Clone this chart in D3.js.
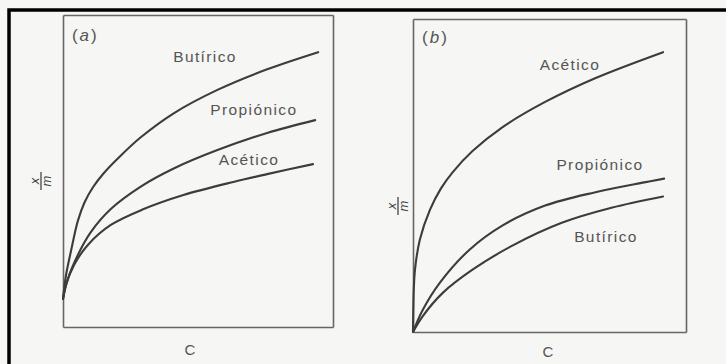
<!DOCTYPE html>
<html>
<head>
<meta charset="utf-8">
<script src="https://cdn.jsdelivr.net/npm/d3@7"></script>
<style>
  body { margin: 0; background: #f6f6f4; }
  svg { display: block; }
</style>
</head>
<body>
<script>
// isotherm curves, [C, x/m] in arbitrary units (0-100)
var butiricoA = [[0, 9], [1.1, 16.5], [3.0, 24.5], [5.5, 34.0], [8.0, 40.0], [11.1, 44.8],
                 [15.0, 49.2], [20.3, 54.0], [28.8, 60.8], [41.0, 68.5], [57.2, 76.0],
                 [75.6, 82.6], [94.5, 88.1]];
var propionicoA = [[0, 9], [1.8, 15.4], [5.5, 23.1], [10.3, 30.4], [17.7, 37.8], [28.8, 45.0],
                   [41.0, 50.8], [57.2, 56.7], [75.6, 62.2], [93.4, 66.3]];
var aceticoA = [[0, 9], [1.1, 13.5], [4.1, 19.9], [9.2, 26.3], [17.7, 32.7], [29.9, 37.8],
                [44.6, 42.3], [63.1, 46.5], [75.6, 49.0], [92.6, 52.2]];

var aceticoB = [[0, 0], [0.3, 14.0], [0.8, 20.5], [2.5, 29.5], [6.2, 39.0], [10.2, 45.8],
                [14.5, 51.0], [21.8, 57.8], [32.7, 65.4], [48.4, 73.5], [66.5, 81.0], [91.6, 89.4]];
var propionicoB = [[0, 0], [3.6, 7.1], [9.8, 15.7], [20.7, 26.3], [32.7, 34.0], [48.4, 40.4],
                   [66.5, 44.6], [84.7, 47.8], [92.0, 49.0]];
var butiricoB = [[0, 0], [3.6, 5.1], [10.9, 12.5], [21.8, 19.9], [36.4, 27.6], [54.5, 34.9],
                 [72.7, 39.7], [91.6, 43.3]];

// names of the acids and the panel letters
var acidNames = ["Butírico", "Propiónico", "Acético"];
var panelLetters = ["a", "b"];
var xLabel = "C";
var yLabelTop = "x";
var yLabelBottom = "m";

// layout of both panels in pixels (frame box, label anchors in data units)
var panels = [
  {letter: panelLetters[0], left: 63, right: 333, top: 15, bottom: 327,
   curves: [butiricoA, propionicoA, aceticoA],
   labels: [[52.6, 84.9], [70.7, 67.9], [68.9, 51.9]],
   letterPos: [3.3, 91.7], yLab: [41, 181], cLab: [190, 355]},
  {letter: panelLetters[1], left: 413, right: 686, top: 19, bottom: 332,
   curves: [butiricoB, propionicoB, aceticoB],
   labels: [[70.7, 28.8], [68.5, 51.8], [57.5, 83.7]],
   letterPos: [3.3, 92.3], yLab: [398, 206], cLab: [548, 357]}
];

var width = 726;
var height = 364;

// creates the SVG element in the html-body
var svg = d3.select("body")
            .append("svg")
            .attr("width", width)
            .attr("height", height);

// background of the scanned page
svg.append("rect")
   .attr("width", "100%")
   .attr("height", "100%")
   .attr("fill", "#f6f6f4");

// thick black frame, only its top and left edges are in the picture
svg.append("path")
   .attr("d", "M9,366 L9,10 L728,10")
   .attr("fill", "none")
   .attr("stroke", "#000")
   .attr("stroke-width", 3.5);

var font = "'Liberation Sans', Arial, Helvetica, sans-serif";

panels.forEach(function(p) {
    // rescales the values to the size of the panel
    var xScale = d3.scaleLinear()
                   .domain([0, 100])
                   .range([p.left, p.right]);
    var yScale = d3.scaleLinear()
                   .domain([0, 100])
                   .range([p.bottom, p.top]);

    // frame of the panel, built from bare axes without ticks
    var frame = svg.append("g");
    frame.append("g")
         .attr("transform", "translate(0," + p.bottom + ")")
         .call(d3.axisBottom(xScale).ticks(0).tickSize(0));
    frame.append("g")
         .attr("transform", "translate(0," + p.top + ")")
         .call(d3.axisTop(xScale).ticks(0).tickSize(0));
    frame.append("g")
         .attr("transform", "translate(" + p.left + ",0)")
         .call(d3.axisLeft(yScale).ticks(0).tickSize(0));
    frame.append("g")
         .attr("transform", "translate(" + p.right + ",0)")
         .call(d3.axisRight(yScale).ticks(0).tickSize(0));
    frame.selectAll(".domain")
         .attr("stroke", "#666")
         .attr("stroke-width", 1.6);

    // draws the three isotherms
    var line = d3.line()
                 .x(function(d){ return xScale(d[0]); })
                 .y(function(d){ return yScale(d[1]); })
                 .curve(d3.curveCatmullRom.alpha(0.5));

    svg.selectAll(null)
       .data(p.curves)
       .enter()
       .append("path")
       .attr("d", line)
       .attr("fill", "none")
       .attr("stroke", "#3c3c3c")
       .attr("stroke-width", 2.1)
       .attr("stroke-linecap", "round");

    // names of the acids
    svg.selectAll(null)
       .data(acidNames)
       .enter()
       .append("text")
       .attr("x", function(d, i){ return xScale(p.labels[i][0]); })
       .attr("y", function(d, i){ return yScale(p.labels[i][1]); })
       .attr("text-anchor", "middle")
       .attr("font-family", font)
       .attr("font-size", 15.5)
       .attr("letter-spacing", 1.4)
       .attr("fill", "#555")
       .text(function(d){ return d; });

    // panel letter, e.g. (a)
    var letter = svg.append("text")
                    .attr("x", xScale(p.letterPos[0]))
                    .attr("y", yScale(p.letterPos[1]))
                    .attr("font-family", font)
                    .attr("font-size", 17)
                    .attr("letter-spacing", 2)
                    .attr("fill", "#555");
    letter.append("tspan").text("(");
    letter.append("tspan").attr("font-style", "italic").text(p.letter);
    letter.append("tspan").text(")");

    // x-axis label
    svg.append("text")
       .attr("x", p.cLab[0])
       .attr("y", p.cLab[1])
       .attr("text-anchor", "middle")
       .attr("font-family", font)
       .attr("font-size", 15)
       .attr("fill", "#555")
       .text(xLabel);

    // y-axis label x/m, written as a fraction turned on its side
    var yl = svg.append("g")
                .attr("transform", "translate(" + p.yLab[0] + "," + p.yLab[1] + ") rotate(-90)");
    yl.append("text")
      .attr("x", 0)
      .attr("y", -2.5)
      .attr("text-anchor", "middle")
      .attr("font-family", font)
      .attr("font-style", "italic")
      .attr("font-size", 13)
      .attr("fill", "#444")
      .text(yLabelTop);
    yl.append("line")
      .attr("x1", -9)
      .attr("x2", 9)
      .attr("y1", 0)
      .attr("y2", 0)
      .attr("stroke", "#444")
      .attr("stroke-width", 1.3);
    yl.append("text")
      .attr("x", 0)
      .attr("y", 9.5)
      .attr("text-anchor", "middle")
      .attr("font-family", font)
      .attr("font-style", "italic")
      .attr("font-size", 13)
      .attr("fill", "#444")
      .text(yLabelBottom);
});
</script>
</body>
</html>
